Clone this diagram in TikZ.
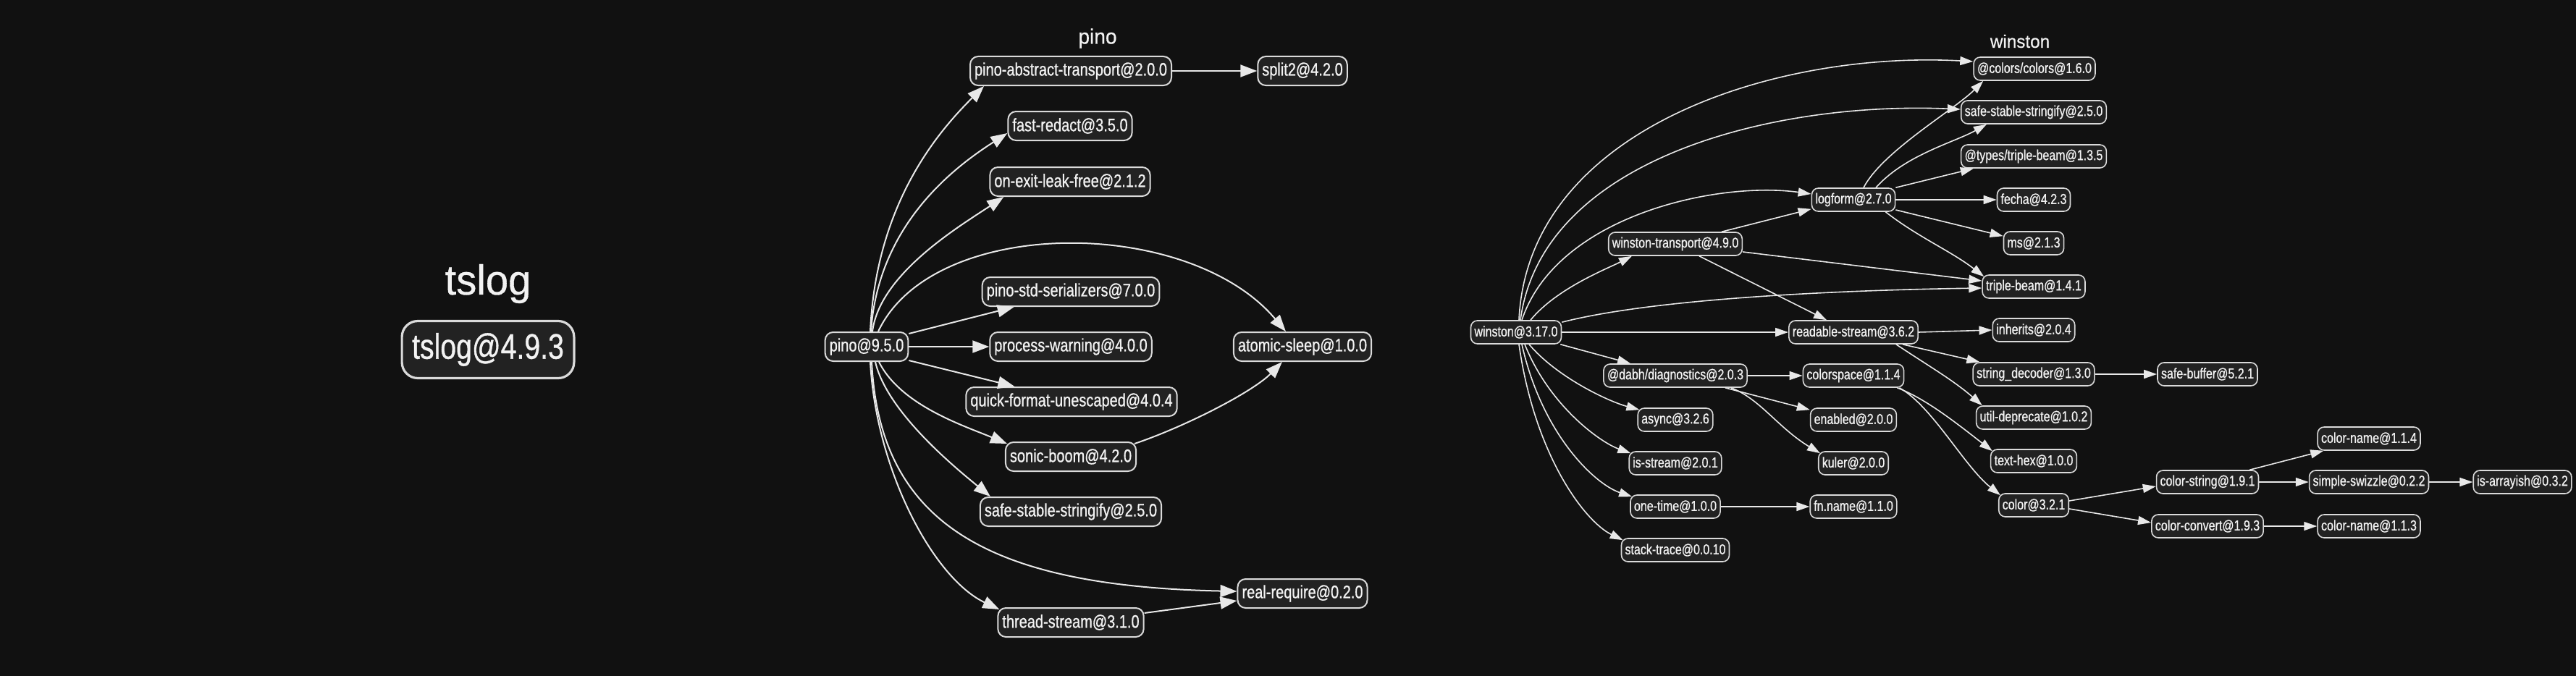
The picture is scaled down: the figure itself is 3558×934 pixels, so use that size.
\documentclass[tikz,border=0pt]{standalone}
\usepackage{fontspec}
\usetikzlibrary{arrows.meta,calc}
\newfontfamily\nodefont{Liberation Sans}[FakeStretch=0.8,FakeBold=0.8]
\newfontfamily\titlefont{Liberation Sans}[FakeStretch=0.97,FakeBold=0.6]
\definecolor{bgc}{HTML}{111111}
\definecolor{nodec}{HTML}{222222}
\definecolor{bordc}{HTML}{DADADA}
\definecolor{txtc}{HTML}{F2F2F2}
\definecolor{edgec}{HTML}{E8E8E8}
\tikzset{
  wn/.style={draw=bordc, fill=nodec, rounded corners=9pt, line width=1.6pt, minimum height=32pt, inner xsep=5pt, inner ysep=0pt, text=txtc, font=\nodefont\fontsize{20}{24}\selectfont},
  pn/.style={draw=bordc, fill=nodec, rounded corners=11pt, line width=2pt, minimum height=40pt, inner xsep=6pt, inner ysep=0pt, text=txtc, font=\nodefont\fontsize{25}{30}\selectfont},
  tn/.style={draw=bordc, fill=nodec, rounded corners=22pt, line width=3.2pt, minimum height=79pt, inner xsep=14pt, inner ysep=0pt, text=txtc, font=\nodefont\fontsize{49}{58}\selectfont},
  ttl/.style={text=txtc, inner sep=0pt},
  pe/.style={draw=edgec, line width=2pt, -{Triangle[length=23pt,width=17pt]}},
  we/.style={draw=edgec, line width=1.6pt, -{Triangle[length=18pt,width=12pt]}},
}
\begin{document}
\begin{tikzpicture}[x=1pt,y=-1pt]
\useasboundingbox (0,0) rectangle (3558,934);
\fill[bgc] (0,0) rectangle (3558,934);

% tslog
\node[ttl, font=\titlefont\fontsize{58}{68}\selectfont] (tsltitle) at (674,392) {tslog};
\node[tn] (tsl) at (674,483) {tslog@4.9.3};

% pino
\node[ttl, font=\titlefont\fontsize{29}{34}\selectfont] (pinotitle) at (1516,53) {pino};
\node[pn] (pino) at (1197,479) {pino@9.5.0};
\node[pn] (pat) at (1479,98) {pino-abstract-transport@2.0.0};
\node[pn] (split) at (1799,98) {split2@4.2.0};
\node[pn] (fr) at (1478,174) {fast-redact@3.5.0};
\node[pn] (oelf) at (1478,251) {on-exit-leak-free@2.1.2};
\node[pn] (pss) at (1479,403) {pino-std-serializers@7.0.0};
\node[pn] (pw) at (1479,479) {process-warning@4.0.0};
\node[pn] (qfu) at (1480,555) {quick-format-unescaped@4.0.4};
\node[pn] (sb) at (1479,631) {sonic-boom@4.2.0};
\node[pn] (pssf) at (1479,707) {safe-stable-stringify@2.5.0};
\node[pn] (ts) at (1479,860) {thread-stream@3.1.0};
\node[pn] (as) at (1799,479) {atomic-sleep@1.0.0};
\node[pn] (rr) at (1799,820) {real-require@0.2.0};

\draw[pe] ($(pino.north)+(5,0)$) .. controls +(8,-180) and +(-60,60) .. ($(pat.south west)+(20,0)$);
\draw[pe] ($(pino.north)+(6,0)$) .. controls +(10,-150) and +(-70,45) .. ($(fr.west)+(0,10)$);
\draw[pe] ($(pino.north)+(8,0)$) .. controls +(10,-80) and +(-60,40) .. ($(oelf.south west)+(20,0)$);
\draw[pe] ($(pino.north)+(16,0)$) .. controls +(75,-160) and +(-135,-160) .. ($(as.north west)+(73,0)$);
\draw[pe] ($(pino.north east)+(0,3)$) -- ($(pss.south west)+(45,0)$);
\draw[pe] (pino.east) -- (pw.west);
\draw[pe] ($(pino.south east)+(0,-2)$) -- ($(qfu.north west)+(68,0)$);
\draw[pe] ($(pino.south)+(17,0)$) .. controls +(30,60) and +(-60,-25) .. ($(sb.north west)+(3,3)$);
\draw[pe] ($(sb.north east)+(-3,3)$) .. controls +(71,-24) and +(-40,41) .. ($(as.south west)+(68,0)$);
\draw[pe] ($(pino.south)+(12,0)$) .. controls +(16,70) and +(-45,-37) .. ($(pssf.north west)+(15,0)$);
\draw[pe] ($(pino.south)+(7,0)$) .. controls +(11,221) and +(-347,-7) .. ($(rr.west)+(0,-3)$);
\draw[pe] ($(pino.south)+(5,0)$) .. controls +(8,150) and +(-91,-43) .. ($(ts.north west)+(3,3)$);
\draw[pe] ($(ts.east)+(0,-13)$) -- ($(rr.west)+(0,10)$);
\draw[pe] (pat.east) -- (split.west);

% winston
\node[ttl, font=\titlefont\fontsize{25}{30}\selectfont] (wintitle) at (2790,57) {winston};
\node[wn] (win) at (2094,459) {winston@3.17.0};
\node[wn] (wt) at (2314,337) {winston-transport@4.9.0};
\node[wn] (dabh) at (2314,519) {@dabh/diagnostics@2.0.3};
\node[wn] (async) at (2314,580) {async@3.2.6};
\node[wn] (iss) at (2314,640) {is-stream@2.0.1};
\node[wn] (ot) at (2314,700) {one-time@1.0.0};
\node[wn] (st) at (2314,760) {stack-trace@0.0.10};
\node[wn] (lf) at (2560,276) {logform@2.7.0};
\node[wn] (rs) at (2560,459) {readable-stream@3.6.2};
\node[wn] (cs) at (2560,519) {colorspace@1.1.4};
\node[wn] (en) at (2560,580) {enabled@2.0.0};
\node[wn] (ku) at (2560,640) {kuler@2.0.0};
\node[wn] (fn) at (2560,700) {fn.name@1.1.0};
\node[wn] (cc) at (2810,95) {@colors/colors@1.6.0};
\node[wn] (wss) at (2809,155) {safe-stable-stringify@2.5.0};
\node[wn] (ttb) at (2809,216) {@types/triple-beam@1.3.5};
\node[wn] (fe) at (2809,276) {fecha@4.2.3};
\node[wn] (ms) at (2809,336) {ms@2.1.3};
\node[wn] (tb) at (2809,396) {triple-beam@1.4.1};
\node[wn] (inh) at (2809,456) {inherits@2.0.4};
\node[wn] (sd) at (2809,517) {string\_decoder@1.3.0};
\node[wn] (ud) at (2809,577) {util-deprecate@1.0.2};
\node[wn] (th) at (2809,637) {text-hex@1.0.0};
\node[wn] (col) at (2809,698) {color@3.2.1};
\node[wn] (sbuf) at (3049,517) {safe-buffer@5.2.1};
\node[wn] (cstr) at (3049,666) {color-string@1.9.1};
\node[wn] (cconv) at (3049,727) {color-convert@1.9.3};
\node[wn] (cn4) at (3272,606) {color-name@1.1.4};
\node[wn] (swz) at (3272,666) {simple-swizzle@0.2.2};
\node[wn] (cn3) at (3272,727) {color-name@1.1.3};
\node[wn] (arr) at (3484,666) {is-arrayish@0.3.2};

\draw[we] ($(win.north)+(4,0)$) .. controls +(12,-264) and +(-274,-15) .. ($(cc.west)+(0,-10)$);
\draw[we] ($(win.north)+(6,0)$) .. controls +(30,-224) and +(-257,-11) .. ($(wss.west)+(0,-4)$);
\draw[we] ($(win.north)+(8,0)$) .. controls +(48,-144) and +(-130,-18) .. ($(lf.west)+(0,-8)$);
\draw[we] ($(win.north)+(20,0)$) .. controls +(36,-44) and +(-33,17) .. ($(wt.south west)+(33,0)$);
\draw[we] ($(win.north east)+(0,3)$) .. controls +(144,-37) and +(-137,2) .. ($(tb.west)+(0,2)$);
\draw[we] (win.east) -- (rs.west);
\draw[we] ($(win.south east)+(-2,0)$) -- ($(dabh.north west)+(38,0)$);
\draw[we] ($(win.south)+(18,0)$) .. controls +(38,45) and +(-44,-12) .. ($(async.north west)+(3,3)$);
\draw[we] ($(win.south)+(12,0)$) .. controls +(34,85) and +(-42,-15) .. ($(iss.north west)+(3,3)$);
\draw[we] ($(win.south)+(8,0)$) .. controls +(28,125) and +(-51,-17) .. ($(ot.north west)+(3,3)$);
\draw[we] ($(win.south)+(4,0)$) .. controls +(22,155) and +(-52,-25) .. ($(st.north west)+(3,3)$);
\draw[we] ($(wt.north east)+(-29,0)$) -- ($(lf.south west)+(0,-4)$);
\draw[we] ($(wt.east)+(0,11)$) -- ($(tb.west)+(0,-8)$);
\draw[we] ($(wt.south)+(33,0)$) -- ($(rs.north west)+(53,0)$);
\draw[we] ($(lf.north)+(14,0)$) .. controls +(26,-50) and +(-40,40) .. ($(cc.south west)+(14,0)$);
\draw[we] ($(lf.north)+(31,0)$) .. controls +(40,-45) and +(-45,25) .. ($(wss.south west)+(36,0)$);
\draw[we] (lf.north east) -- ($(ttb.south west)+(18,0)$);
\draw[we] (lf.east) -- (fe.west);
\draw[we] ($(lf.east)+(0,14)$) -- ($(ms.north west)+(0,7)$);
\draw[we] ($(lf.south east)+(-14,0)$) .. controls +(45,35) and +(-45,-35) .. ($(tb.north west)+(3,3)$);
\draw[we] (rs.east) -- (inh.west);
\draw[we] ($(rs.south east)+(-22,0)$) -- ($(sd.north west)+(10,0)$);
\draw[we] ($(rs.south east)+(-31,0)$) .. controls +(45,30) and +(-40,-35) .. ($(ud.north west)+(9,0)$);
\draw[we] (dabh.east) -- (cs.west);
\draw[we] ($(dabh.south east)+(-31,0)$) -- ($(en.north west)+(0,3)$);
\draw[we] ($(dabh.south east)+(-23,0)$) .. controls +(40,15) and +(-58,-35) .. ($(ku.north west)+(3,3)$);
\draw[we] ($(cs.south east)+(-10,0)$) .. controls +(40,15) and +(-45,-35) .. ($(th.north west)+(3,3)$);
\draw[we] ($(cs.south east)+(-7,0)$) .. controls +(45,25) and +(-50,-40) .. ($(col.north west)+(3,3)$);
\draw[we] (ot.east) -- (fn.west);
\draw[we] (sd.east) -- (sbuf.west);
\draw[we] ($(col.east)+(0,-6)$) -- ($(cstr.west)+(0,6)$);
\draw[we] ($(col.east)+(0,5)$) -- ($(cconv.west)+(0,-5)$);
\draw[we] ($(cstr.north east)+(-13,0)$) -- ($(cn4.south west)+(9,0)$);
\draw[we] (cstr.east) -- (swz.west);
\draw[we] (swz.east) -- (arr.west);
\draw[we] (cconv.east) -- (cn3.west);
\end{tikzpicture}
\end{document}
